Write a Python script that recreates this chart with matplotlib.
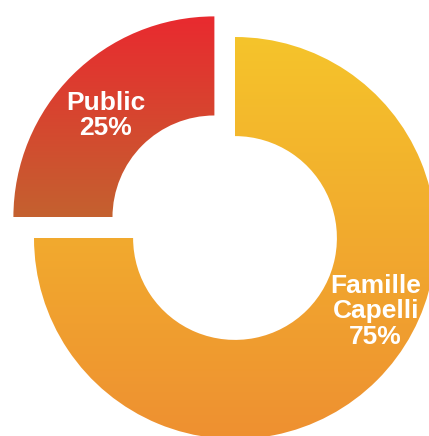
import numpy as np
import matplotlib.pyplot as plt
from matplotlib.colors import LinearSegmentedColormap

labels = ['Famille\nCapelli\n75%', 'Public\n25%']
values = [75, 25]
explode = [0, 0.145]
grad_colors = [('#EE9031', '#F5C42B'), ('#C4612F', '#E92A30')]
label_pos = [(0.70, -0.365), (-0.642, 0.61)]

fig = plt.figure(figsize=(4.29, 4.36), dpi=100)
ax = fig.add_axes([0, 0, 1, 1])

wedges, _ = ax.pie(values, startangle=90, counterclock=False, explode=explode,
                   radius=1, wedgeprops=dict(width=0.493, linewidth=0))

# vertical gradient fill for each wedge, clipped to the wedge shape
for w, (c_bot, c_top) in zip(wedges, grad_colors):
    w.set_facecolor('none')
    cmap = LinearSegmentedColormap.from_list('g', [c_bot, c_top])
    bb = w.get_path().get_extents()
    grad = np.linspace(0, 1, 256).reshape(-1, 1)
    im = ax.imshow(grad, cmap=cmap, origin='lower', aspect='auto',
                   extent=[bb.x0, bb.x1, bb.y0, bb.y1], interpolation='bilinear')
    im.set_clip_path(w)

for text, (x, y) in zip(labels, label_pos):
    ax.text(x, y, text, ha='center', va='center', color='white', fontsize=19,
            fontweight='bold', family='Liberation Sans', linespacing=1.06, zorder=5)

ax.set_xlim(-235 / 201, (429 - 235) / 201)
ax.set_ylim(-198 / 201, (436 - 198) / 201)
ax.set_aspect('equal')
ax.axis('off')

fig.savefig('out.png', dpi=100)
